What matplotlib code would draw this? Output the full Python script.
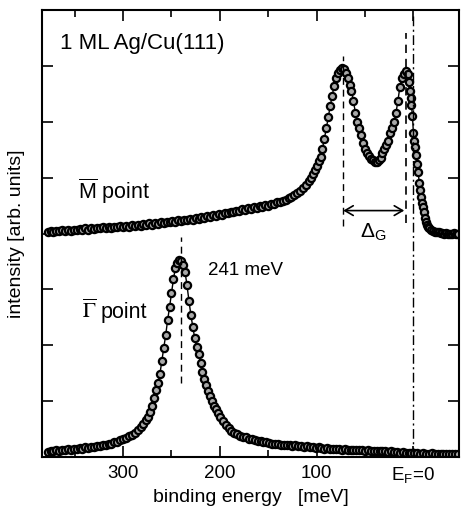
import matplotlib
matplotlib.use("Agg")
import matplotlib.pyplot as plt

# Gamma point spectrum (binding energy in meV, intensity in arb. units)
gamma_energy = [378, 375, 372, 369, 366, 363, 360, 357, 354, 351,
                348, 345, 342, 339, 336, 333, 330, 327, 324, 321,
                318, 315, 312, 309, 306, 303, 300, 297, 294, 291,
                288, 285, 282, 279, 276, 274, 272, 270, 268, 266,
                264, 262, 260, 258, 256, 254, 252, 250, 248, 246,
                244, 242, 240, 238, 236, 234, 232, 230, 228, 226,
                224, 222, 220, 218, 216, 214, 212, 210, 208, 206,
                204, 202, 200, 197, 194, 191, 188, 185, 182, 179,
                176, 173, 170, 167, 164, 161, 158, 155, 152, 149,
                146, 143, 140, 137, 134, 131, 128, 125, 122, 119,
                116, 113, 110, 107, 104, 101, 98, 95, 92, 89,
                86, 83, 80, 77, 74, 71, 68, 65, 62, 59,
                56, 53, 50, 47, 44, 41, 38, 35, 32, 29,
                26, 23, 20, 17, 14, 11, 8, 5, 2, -1,
                -4, -7, -10, -13, -16, -19, -22, -25, -28, -31,
                -34, -37, -40, -43, -46]
gamma_int = [0.09, 0.11, 0.10, 0.12, 0.11, 0.13, 0.12, 0.14, 0.13, 0.15,
             0.14, 0.16, 0.15, 0.17, 0.16, 0.18, 0.18, 0.20, 0.19, 0.22,
             0.22, 0.24, 0.24, 0.27, 0.27, 0.30, 0.32, 0.34, 0.37, 0.40,
             0.43, 0.48, 0.53, 0.59, 0.66, 0.72, 0.80, 0.92, 1.06, 1.20,
             1.33, 1.48, 1.72, 1.95, 2.18, 2.45, 2.68, 2.93, 3.18, 3.38,
             3.47, 3.52, 3.50, 3.43, 3.31, 3.08, 2.80, 2.55, 2.33, 2.13,
             1.97, 1.84, 1.68, 1.52, 1.39, 1.28, 1.18, 1.09, 1.00, 0.92,
             0.85, 0.78, 0.72, 0.65, 0.58, 0.52, 0.47, 0.43, 0.41, 0.38,
             0.36, 0.35, 0.33, 0.32, 0.31, 0.29, 0.28, 0.27, 0.26, 0.25,
             0.24, 0.24, 0.23, 0.22, 0.22, 0.21, 0.21, 0.20, 0.21, 0.19,
             0.19, 0.18, 0.19, 0.17, 0.18, 0.16, 0.17, 0.16, 0.15, 0.16,
             0.14, 0.15, 0.14, 0.15, 0.13, 0.14, 0.13, 0.13, 0.12, 0.13,
             0.12, 0.12, 0.11, 0.12, 0.11, 0.11, 0.10, 0.11, 0.10, 0.10,
             0.09, 0.10, 0.09, 0.09, 0.08, 0.09, 0.08, 0.07, 0.08, 0.07,
             0.07, 0.06, 0.07, 0.06, 0.06, 0.07, 0.06, 0.06, 0.05, 0.06,
             0.06, 0.05, 0.06, 0.06, 0.05]

# M point spectrum (offset upwards)
m_energy = [378, 375, 372, 369, 366, 363, 360, 357, 354, 351,
            348, 345, 342, 339, 336, 333, 330, 327, 324, 321,
            318, 315, 312, 309, 306, 303, 300, 297, 294, 291,
            288, 285, 282, 279, 276, 273, 270, 267, 264, 261,
            258, 255, 252, 249, 246, 243, 240, 237, 234, 231,
            228, 225, 222, 219, 216, 213, 210, 207, 204, 201,
            198, 195, 192, 189, 186, 183, 180, 177, 174, 171,
            168, 165, 162, 159, 156, 153, 150, 147, 144, 141,
            138, 135, 132, 129, 126, 123, 120, 117, 114, 111,
            108, 106, 104, 102, 100, 98, 96, 94, 92, 90,
            88, 86, 84, 82, 80, 78, 76, 74, 72, 70,
            68, 66, 64, 62, 60, 58, 56, 54, 52, 50,
            48, 46, 44, 42, 40, 38, 36, 34, 32, 30,
            28, 26, 24, 22, 20, 18, 16, 14, 12, 10,
            8, 6, 5, 4, 3, 2, 1, 0, -1, -2,
            -3, -4, -5, -6, -7, -8, -9, -10, -11, -12,
            -13, -14, -15, -16, -18, -20, -22, -24, -26, -28,
            -30, -32, -34, -36, -38, -40, -42, -44, -46]
m_int = [4.02, 4.05, 4.03, 4.05, 4.04, 4.06, 4.04, 4.07, 4.05, 4.07,
         4.06, 4.08, 4.07, 4.09, 4.07, 4.10, 4.08, 4.10, 4.09, 4.11,
         4.10, 4.12, 4.10, 4.12, 4.11, 4.13, 4.12, 4.14, 4.12, 4.15,
         4.13, 4.16, 4.14, 4.17, 4.15, 4.18, 4.16, 4.19, 4.17, 4.20,
         4.18, 4.21, 4.20, 4.22, 4.21, 4.24, 4.22, 4.25, 4.24, 4.26,
         4.25, 4.28, 4.26, 4.29, 4.28, 4.31, 4.30, 4.33, 4.32, 4.35,
         4.34, 4.37, 4.36, 4.39, 4.38, 4.41, 4.40, 4.43, 4.42, 4.45,
         4.44, 4.47, 4.46, 4.49, 4.48, 4.51, 4.50, 4.53, 4.53, 4.56,
         4.56, 4.59, 4.60, 4.64, 4.66, 4.69, 4.72, 4.76, 4.81, 4.87,
         4.94, 4.99, 5.07, 5.14, 5.21, 5.29, 5.37, 5.52, 5.70, 5.88,
         6.08, 6.28, 6.46, 6.64, 6.78, 6.87, 6.93, 6.96, 6.94, 6.88,
         6.78, 6.66, 6.55, 6.38, 6.16, 6.00, 5.88, 5.77, 5.62, 5.52,
         5.44, 5.38, 5.34, 5.31, 5.28, 5.28, 5.31, 5.36, 5.44, 5.52,
         5.58, 5.66, 5.79, 5.88, 6.00, 6.16, 6.38, 6.62, 6.78, 6.86,
         6.91, 6.85, 6.72, 6.55, 6.43, 6.30, 6.10, 5.80, 5.65, 5.54,
         5.40, 5.25, 5.10, 4.90, 4.77, 4.66, 4.55, 4.47, 4.38, 4.28,
         4.21, 4.16, 4.12, 4.10, 4.07, 4.05, 4.03, 4.02, 4.02, 4.01,
         4.01, 4.00, 4.01, 4.00, 4.00, 4.00, 4.01, 4.00, 4.00]

assert len(gamma_energy) == len(gamma_int)
assert len(m_energy) == len(m_int)

# peak markers
gamma_peak = 240
m_peak1 = 73
m_peak2 = 7.5

xticks_major = [300, 200, 100, 0]
xtick_labels = ["300", "200", "100", r"E$_\mathrm{F}$=0"]
xticks_minor = [350, 250, 150, 50]
yticks = [1, 2, 3, 4, 5, 6, 7]

plt.rcParams["font.family"] = ["Liberation Sans", "DejaVu Sans"]
plt.rcParams["mathtext.fontset"] = "custom"
plt.rcParams["mathtext.rm"] = "Liberation Sans"
plt.rcParams["mathtext.it"] = "Liberation Sans:italic"
plt.rcParams["mathtext.bf"] = "Liberation Sans:bold"

fig = plt.figure(figsize=(4.61, 5.11), dpi=100)
ax = fig.add_axes([0.0911, 0.1057, 0.9967 - 0.0911, 0.9804 - 0.1057])

style = dict(color="black", lw=1.0, marker="o", ms=5.2, mfc="#a8a8a8",
             mec="black", mew=1.6)
ax.plot(gamma_energy, gamma_int, **style)
ax.plot(m_energy, m_int, **style)

# guide lines
ax.vlines(gamma_peak, 1.32, 3.93, colors="black", lw=1.0,
          linestyles=(0, (5, 3.5)))
ax.vlines(m_peak1, 4.14, 7.18, colors="black", lw=1.0,
          linestyles=(0, (5, 3.5)))
ax.vlines(m_peak2, 4.18, 7.59, colors="black", lw=1.2,
          linestyles=(0, (5, 3.5)))
ax.vlines(0, 0, 7.95, colors="black", lw=1.0,
          linestyles=(0, (7, 2.5, 1.5, 2.5)))

ax.annotate("", xy=(9.5, 4.41), xytext=(72.5, 4.41),
            arrowprops=dict(arrowstyle="<->,head_length=0.6,head_width=0.35",
                            lw=1.2, color="black", shrinkA=0, shrinkB=0))

ax.text(365, 7.30, "1 ML Ag/Cu(111)", fontsize=16, va="baseline")
ax.text(346.5, 4.625, r"$\overline{\mathrm{M}}$ point", fontsize=15.5,
        va="baseline")
ax.text(342, 2.48, r"$\overline{\Gamma}$", fontsize=15.5, va="baseline",
        math_fontfamily="stix")
ax.text(323.5, 2.48, "point", fontsize=15.5, va="baseline")
ax.text(212, 3.25, "241 meV", fontsize=13.5, va="baseline")
ax.text(54.8, 3.93, r"$\Delta_\mathrm{G}$", fontsize=15, va="baseline")

ax.set_xlim(383.8, -47.6)
ax.set_ylim(0, 8)
ax.set_xticks(xticks_major)
ax.set_xticklabels(xtick_labels)
ax.set_xticks(xticks_minor, minor=True)
ax.set_yticks(yticks)
ax.set_yticklabels([])

ax.tick_params(which="both", direction="in", top=True, right=True,
               width=1.2, labelsize=13.5, pad=6)
ax.tick_params(which="major", length=8)
ax.tick_params(which="minor", length=5)
for sp in ax.spines.values():
    sp.set_linewidth(1.5)

ax.set_xlabel("binding energy   [meV]", fontsize=14, labelpad=3)
ax.set_ylabel("intensity [arb. units]", fontsize=14, labelpad=6)

fig.savefig("out.png", dpi=100)
